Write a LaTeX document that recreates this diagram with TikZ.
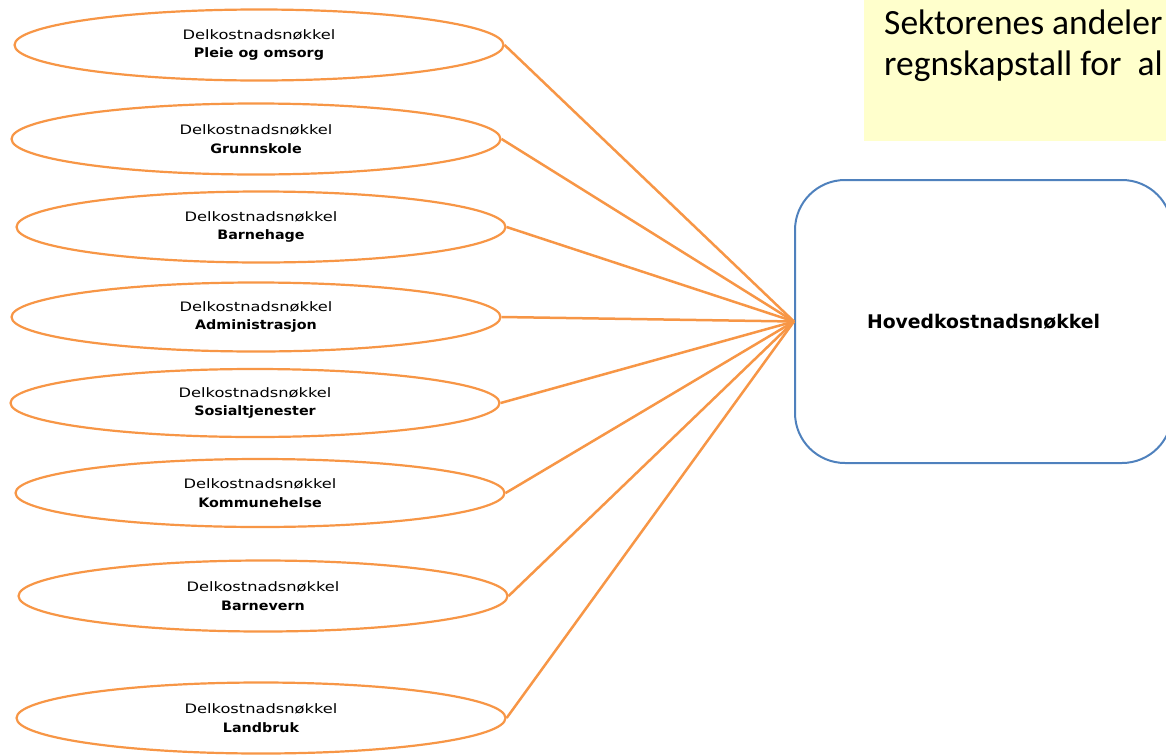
\documentclass[tikz,border=0pt]{standalone}
\usepackage{fontspec}
\setmainfont{DejaVu Sans}
\newfontfamily\regf[FakeStretch=1.25]{DejaVu Sans}
\newfontfamily\boldf[FakeStretch=1.1]{DejaVu Sans}
\newfontfamily\calib{Carlito}
\usetikzlibrary{shapes.geometric}
\definecolor{keyorange}{HTML}{F79646}
\definecolor{keyblue}{HTML}{4F81BD}
\definecolor{noteyellow}{HTML}{FFFFCC}
\tikzset{
  delkey/.style={ellipse, draw=keyorange, line width=2.2pt, fill=white, inner sep=0pt,
    minimum width=489pt, minimum height=71pt, align=center,
    font=\fontsize{13}{18.5}\selectfont},
  conn/.style={draw=keyorange, line width=2.5pt},
  hkbox/.style={draw=keyblue, line width=2pt, rounded corners=50pt, fill=white,
    minimum width=377pt, minimum height=283pt, inner sep=0pt,
    font=\bfseries\fontsize{18.8}{22}\selectfont},
  notebox/.style={fill=noteyellow, inner sep=0pt, anchor=north west,
    minimum width=310pt, minimum height=141pt},
  notetext/.style={anchor=base west, inner sep=0pt, font=\calib\fontsize{35.5}{43}\selectfont}
}
\begin{document}
\begin{tikzpicture}[x=1pt,y=-1pt]
\useasboundingbox (0,0) rectangle (1166,755);
\clip (0,0) rectangle (1166,755);
\node[notebox] (note) at (864,0) {};
\node[notetext] (t1) at (884,34) {Sektorenes andeler};
\node[notetext] (t2) at (884,75) {regnskapstall for\ \ al};

\node[hkbox] (hk) at (983.5,321.5) {Hovedkostnadsnøkkel};

\node[delkey] (e1) at (259,45) {\regf Delkostnadsnøkkel\\\boldf\bfseries Pleie og omsorg};
\node[delkey] (e2) at (256,139) {\regf Delkostnadsnøkkel\\\boldf\bfseries Grunnskole};
\node[delkey] (e3) at (261,227) {\regf Delkostnadsnøkkel\\\boldf\bfseries Barnehage};
\node[delkey, minimum height=69pt] (e4) at (256,317) {\regf Delkostnadsnøkkel\\\boldf\bfseries Administrasjon};
\node[delkey, minimum height=68pt] (e5) at (255,403) {\regf Delkostnadsnøkkel\\\boldf\bfseries Sosialtjenester};
\node[delkey, minimum height=68pt] (e6) at (260,493) {\regf Delkostnadsnøkkel\\\boldf\bfseries Kommunehelse};
\node[delkey] (e7) at (263,596) {\regf Delkostnadsnøkkel\\\boldf\bfseries Barnevern};
\node[delkey] (e8) at (261,718) {\regf Delkostnadsnøkkel\\\boldf\bfseries Landbruk};

\foreach \e in {e1,e2,e3,e4,e5,e6,e7,e8}
  \draw[conn] (\e.east) -- (hk.west);
\end{tikzpicture}
\end{document}
